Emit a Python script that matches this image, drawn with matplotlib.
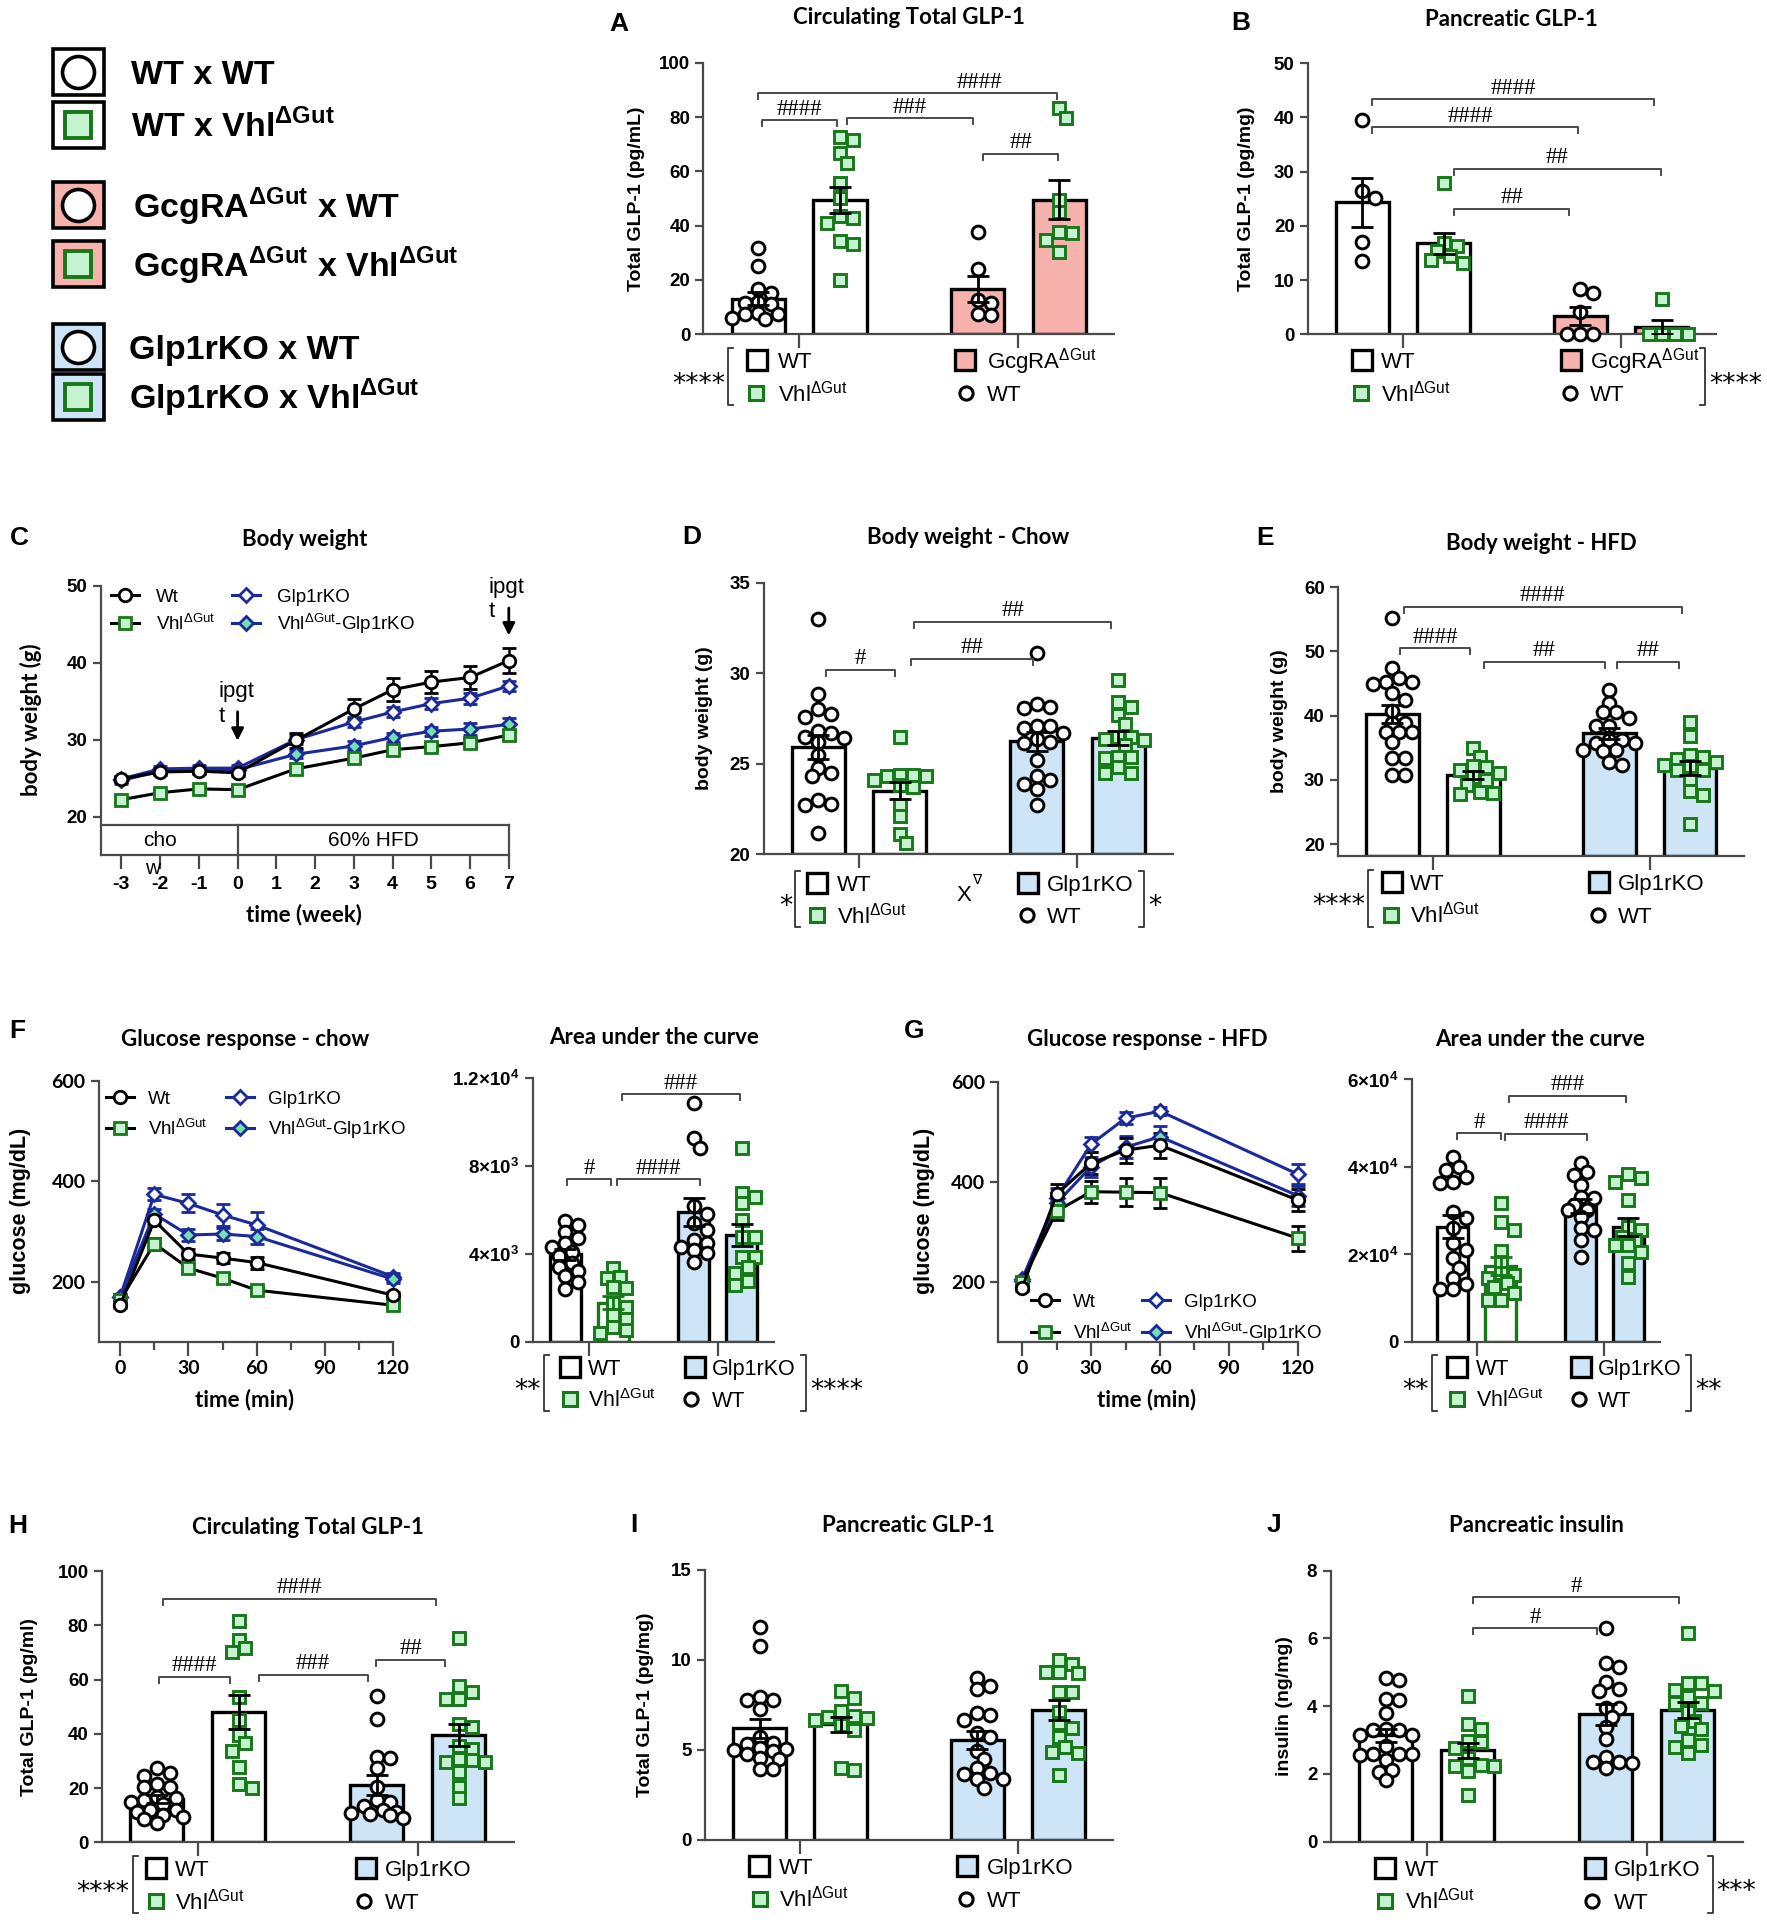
import matplotlib
matplotlib.use("Agg")
import matplotlib.pyplot as plt
from matplotlib.patches import Rectangle
from matplotlib.lines import Line2D
import numpy as np

plt.rcParams['font.family'] = ['Liberation Sans', 'DejaVu Sans']
plt.rcParams['mathtext.fontset'] = 'custom'
plt.rcParams['mathtext.rm'] = 'Liberation Sans'
plt.rcParams['mathtext.bf'] = 'Liberation Sans:bold'
plt.rcParams['axes.unicode_minus'] = False

### ---------------- data ----------------
# A - circulating total GLP-1 (pg/mL)
a_wt_wt = [31.9, 25.3, 16.8, 15.1, 12.0, 11.4, 11.2, 7.7, 7.5, 7.5, 5.9, 5.6]
a_wt_vhl = [72.8, 71.5, 66.6, 63.2, 55.6, 50.3, 43.6, 42.9, 41.1, 34.5, 33.1, 20.0]
a_gcg_wt = [37.5, 23.9, 12.6, 11.4, 7.5, 7.1]
a_gcg_vhl = [83.2, 79.5, 49.4, 44.9, 37.5, 37.2, 34.7, 30.4]

# B - pancreatic GLP-1 (pg/mg)
b_wt_wt = [39.5, 26.4, 25.2, 17.1, 13.6]
b_wt_vhl = [27.9, 16.8, 16.2, 15.3, 14.5, 13.8, 13.2]
b_gcg_wt = [8.4, 7.6, 4.1, 0, 0, 0]
b_gcg_vhl = [6.5, 0, 0, 0, 0]

# C - body weight time course (g)
c_week = [-3, -2, -1, 0, 1.5, 3, 4, 5, 6, 7]
c_wt = [24.9, 25.8, 25.9, 25.7, 29.9, 34.0, 36.5, 37.5, 38.1, 40.3]
c_wt_err = [0.4, 0.4, 0.4, 0.4, 1.0, 1.3, 1.5, 1.4, 1.5, 1.6]
c_vhl = [22.2, 23.1, 23.6, 23.5, 26.2, 27.6, 28.7, 29.1, 29.6, 30.6]
c_vhl_err = [0.3, 0.3, 0.3, 0.3, 0.5, 0.5, 0.5, 0.5, 0.6, 0.6]
c_ko = [24.9, 26.2, 26.3, 26.3, 30.0, 32.3, 33.6, 34.7, 35.4, 37.0]
c_ko_err = [0.4, 0.4, 0.4, 0.4, 0.6, 0.7, 0.7, 0.7, 0.7, 0.7]
c_vhlko = [24.7, 25.9, 26.1, 26.1, 28.1, 29.2, 30.3, 31.1, 31.4, 32.0]
c_vhlko_err = [0.4, 0.4, 0.4, 0.4, 0.5, 0.6, 0.6, 0.6, 0.8, 0.8]

# D - body weight chow (g)
d_wt_wt = [33.0, 28.85, 28.0, 27.75, 27.6, 26.8, 26.7, 26.5, 26.45, 26.2, 25.5,
           24.75, 24.5, 24.3, 23.0, 22.8, 22.7, 21.15]
d_wt_vhl = [26.5, 24.4, 24.4, 24.3, 24.3, 24.1, 23.8, 23.7, 22.7, 22.1, 21.1, 20.6]
d_ko_wt = [31.1, 28.3, 28.15, 28.1, 27.1, 27.1, 26.95, 26.7, 26.35, 26.2, 26.15,
           25.2, 24.3, 24.1, 23.9, 23.6, 22.7]
d_ko_vhl = [29.6, 28.4, 28.15, 27.7, 27.2, 26.5, 26.5, 26.35, 26.3, 26.05, 25.4,
            25.4, 25.3, 24.8, 24.5, 24.5]

# E - body weight HFD (g)
e_wt_wt = [55.2, 47.4, 45.8, 45.3, 45.3, 45.0, 43.6, 42.5, 40.7, 38.9, 38.9,
           37.5, 37.5, 37.5, 35.9, 33.4, 33.4, 30.75, 30.75]
e_wt_vhl = [34.9, 33.6, 32.2, 32.0, 31.6, 31.0, 30.5, 29.9, 29.2, 28.1, 28.0, 27.8]
e_ko_wt = [44.0, 41.9, 40.6, 40.6, 39.6, 38.4, 38.4, 36.2, 36.2, 35.7, 35.7,
           34.6, 34.6, 34.5, 32.8, 32.3]
e_ko_vhl = [39.0, 36.8, 33.9, 33.5, 33.2, 32.8, 32.3, 32.2, 31.6, 31.5, 30.2,
            28.2, 27.6, 23.1]

# F - glucose response chow (mg/dL) and AUC
f_time = [0, 15, 30, 45, 60, 120]
f_wt = [153, 322, 255, 247, 238, 173]
f_wt_err = [5, 10, 10, 10, 12, 6]
f_vhl = [163, 276, 227, 207, 183, 153]
f_vhl_err = [5, 12, 10, 8, 6, 5]
f_ko = [170, 374, 356, 333, 313, 210]
f_ko_err = [6, 12, 18, 22, 25, 8]
f_vhlko = [169, 335, 293, 295, 290, 205]
f_vhlko_err = [5, 10, 12, 12, 15, 8]
f_auc_wt_wt = [5500, 5300, 5000, 4700, 4500, 4300, 4100, 3900, 3600, 3400, 3200, 3000, 2700, 2400]
f_auc_wt_vhl = [3333, 2955, 2879, 2500, 2424, 1742, 1590, 1212, 1015, 680, 530, 380]
f_auc_ko_wt = [10833, 9242, 8788, 6167, 5803, 5379, 5076, 4621, 4470, 4318, 4167, 4015, 3636]
f_auc_ko_vhl = [8788, 6773, 6561, 6288, 5530, 4773, 4773, 3864, 3864, 3409, 3106, 2773, 2576]

# G - glucose response HFD (mg/dL) and AUC
g_time = [0, 15, 30, 45, 60, 120]
g_wt = [187, 375, 437, 463, 473, 363]
g_wt_err = [5, 20, 22, 25, 25, 22]
g_vhl = [200, 341, 380, 379, 378, 287]
g_vhl_err = [5, 18, 22, 28, 30, 25]
g_ko = [205, 367, 475, 527, 541, 415]
g_ko_err = [5, 20, 15, 12, 8, 20]
g_vhlko = [202, 357, 430, 469, 490, 372]
g_vhlko_err = [5, 15, 20, 22, 22, 20]
g_auc_wt_wt = [42300, 40000, 39260, 37740, 36600, 36200, 29700, 28200, 25900, 22500,
               21000, 19100, 16800, 14500, 13300, 12000, 12000]
g_auc_wt_vhl = [31640, 27300, 25540, 20800, 18300, 15600, 15250, 14500, 13340, 12430,
                11050, 9530, 9530]
g_auc_ko_wt = [40800, 38880, 38120, 35830, 33160, 32780, 31260, 30100, 30100, 28600,
               25920, 25540, 23250, 19290]
g_auc_ko_vhl = [38350, 37360, 36600, 32400, 26300, 25540, 24000, 23250, 22100, 22100,
                20580, 17920, 14870]

# H - circulating total GLP-1 (pg/ml)
h_wt_wt = [27.3, 25.7, 24.4, 21.5, 20.3, 20.3, 16.8, 16.5, 15.6, 14.7, 14.0, 11.9,
           11.9, 11.1, 10.1, 9.2, 8.6, 7.0]
h_wt_vhl = [81.7, 74.6, 71.5, 70.3, 53.7, 45.1, 39.6, 36.5, 33.8, 27.9, 21.5, 19.9]
h_ko_wt = [53.9, 45.3, 31.3, 31.0, 27.3, 20.5, 15.6, 15.0, 13.5, 11.9, 11.3, 10.7,
           10.4, 10.1, 8.8]
h_ko_vhl = [75.2, 57.6, 55.5, 52.7, 52.7, 43.6, 42.4, 35.5, 34.3, 30.6, 30.3, 29.7,
            29.7, 26.0, 20.5, 16.2]

# I - pancreatic GLP-1 (pg/mg)
i_wt_wt = [11.85, 10.8, 7.96, 7.8, 7.78, 7.26, 5.7, 5.4, 5.33, 5.1, 5.04, 5.0,
           4.96, 4.8, 4.54, 4.48, 3.93, 3.93]
i_wt_vhl = [8.3, 7.87, 7.18, 6.89, 6.81, 6.76, 6.67, 6.39, 6.11, 3.98, 3.89]
i_ko_wt = [9.0, 8.56, 8.37, 7.07, 6.94, 6.67, 5.93, 5.7, 4.96, 4.48, 3.98, 3.74,
           3.67, 3.37, 3.37, 2.87]
i_ko_vhl = [10.0, 9.8, 9.35, 9.35, 9.26, 8.24, 8.24, 7.13, 6.52, 6.2, 5.7, 5.19,
            4.9, 4.81, 3.61]

# J - pancreatic insulin (ng/mg)
j_wt_wt = [4.82, 4.77, 4.2, 4.18, 3.81, 3.32, 3.3, 3.3, 3.15, 3.15, 2.82, 2.59,
           2.59, 2.59, 2.56, 2.41, 2.12, 2.07, 1.82]
j_wt_vhl = [4.3, 3.47, 3.33, 2.98, 2.95, 2.76, 2.46, 2.26, 2.24, 2.24, 2.1, 1.38]
j_ko_wt = [6.32, 5.27, 5.17, 4.72, 4.5, 4.46, 3.94, 3.94, 3.69, 3.4, 3.02, 2.51,
           2.36, 2.36, 2.31, 2.17]
j_ko_vhl = [6.17, 4.68, 4.68, 4.48, 4.46, 4.26, 4.1, 4.08, 3.84, 3.57, 3.42, 3.32,
            3.0, 2.85, 2.8, 2.61]

### ---------------- style ----------------
W, H = 1767, 1920
fig = plt.figure(figsize=(W / 100, H / 100), dpi=100)

SPINE = '#4a4a4a'
PINK = '#f8b2ad'
LBLUE = '#cde5f7'
SQ_FILL = '#c5f3cf'
SQ_EDGE = '#17781a'
NAVY = '#1b2a9a'
MINT = '#74e0b0'
VHL = r'Vhl$^{\mathregular{ΔGut}}$'
GCG = r'GcgRA$^{\mathregular{ΔGut}}$'
TITLE_FONT = ['Lato', 'DejaVu Sans']
HASH_FONT = ['Liberation Serif', 'DejaVu Serif']
STAR_FONT = ['DejaVu Sans']
TICK_FS = 13.5

POS = [0, 1, 2.68, 3.68]
BAR_W = 0.65


def ftext(x, y, s, **kw):
    return fig.text(x / W, 1 - y / H, s, **kw)


def px_ax(l, t, r, b):
    ax = fig.add_axes([l / W, 1 - b / H, (r - l) / W, (b - t) / H])
    ax.patch.set_alpha(0)
    for s in ('top', 'right'):
        ax.spines[s].set_visible(False)
    for s in ('left', 'bottom'):
        ax.spines[s].set_color(SPINE)
        ax.spines[s].set_linewidth(1.6)
    ax.tick_params(colors=SPINE, width=1.6, length=6, labelcolor='black', labelsize=TICK_FS)
    return ax


def swarm(vals, sy, d, lim):
    ### simple beeswarm: offsets in pixels, points may overlap a little
    order = np.argsort(-vals, kind='stable')
    placed = []
    offs = np.zeros(len(vals))
    for k in order:
        y = vals[k] * sy
        best, best_gap = 0.0, -1e9
        for step in range(40):
            cand = 0.0 if step == 0 else ((step + 1) // 2) * d * 0.5 * (1 if step % 2 else -1)
            if abs(cand) > lim:
                continue
            gap = min([np.hypot(cand - px, y - py) for px, py in placed] + [1e9])
            if gap >= d * 0.8:
                best = cand
                break
            if gap > best_gap:
                best, best_gap = cand, gap
        offs[k] = best
        placed.append((best, y))
    return offs


def title(cx, y, s, letter=None, lx=None, ly=None):
    ftext(cx, y, s, ha='center', va='center', fontsize=16, fontweight='bold', family=TITLE_FONT)
    if letter:
        ftext(lx, ly, letter, ha='center', va='center', fontsize=19, fontweight='bold')


def bar_panel(box, ylim, yticks, groups, fills, edges, brackets, ylabel=None, ylab_x=None,
              xlim=(-0.67, 4.35), yticklabels=None):
    l, t, r, b = box
    ax = px_ax(l, t, r, b)
    ax.set_xlim(xlim)
    ax.set_ylim(ylim)
    sx = (r - l) / (xlim[1] - xlim[0])
    sy = (b - t) / (ylim[1] - ylim[0])
    for i, vals in enumerate(groups):
        vals = np.asarray(vals, float)
        m = vals.mean()
        sem = vals.std(ddof=1) / np.sqrt(len(vals))
        ax.bar(POS[i], m - ylim[0], bottom=ylim[0], width=BAR_W, color=fills[i],
               edgecolor=edges[i], linewidth=2.4, zorder=2)
        offs = swarm(vals, sy, 13.0, BAR_W * sx * 0.55) / sx
        if i % 2 == 0:
            ax.plot(POS[i] + offs, vals, 'o', ms=9.2, mfc='white', mec='black', mew=2.1,
                    zorder=3, clip_on=False)
        else:
            ax.plot(POS[i] + offs, vals, 's', ms=8.6, mfc=SQ_FILL, mec=SQ_EDGE, mew=2.1,
                    zorder=3, clip_on=False)
        ax.errorbar(POS[i], m, yerr=sem, color=edges[i], capsize=8, elinewidth=2,
                    capthick=2, zorder=4)
    drop = 6 / sy
    for br in brackets:
        i, j, y, lab, dl, dr = br[:6]
        tt = br[6] if len(br) > 6 else 0.5
        x1, x2 = POS[i] + dl, POS[j] + dr
        ax.plot([x1, x1, x2, x2], [y - drop, y, y, y - drop], color=SPINE, lw=1.4,
                clip_on=False, zorder=5)
        ax.text(x1 + tt * (x2 - x1), y + 11 / sy, lab, ha='center', va='center',
                fontsize=16.5, family=HASH_FONT)
    ax.set_yticks(yticks)
    ax.set_yticklabels(yticklabels if yticklabels else [str(v) for v in yticks],
                       fontweight='bold', fontsize=TICK_FS)
    ax.set_xticks([(POS[0] + POS[1]) / 2, (POS[2] + POS[3]) / 2])
    ax.set_xticklabels([])
    ax.tick_params(axis='x', length=10)
    if ylabel:
        ftext(ylab_x, (t + b) / 2, ylabel, rotation=90, ha='center', va='center',
              fontsize=14, fontweight='bold')
    return ax


def add_box(cx, cy, fill, size=20, lw=2.4):
    fig.add_artist(Rectangle(((cx - size / 2) / W, 1 - (cy + size / 2) / H), size / W, size / H,
                             transform=fig.transFigure, facecolor=fill, edgecolor='black', lw=lw))


def add_mark(cx, cy, kind, ms=9, mew=2.2):
    if kind == 'o':
        kw = dict(marker='o', mfc='white', mec='black')
    else:
        kw = dict(marker='s', mfc=SQ_FILL, mec=SQ_EDGE)
    fig.add_artist(Line2D([cx / W], [1 - cy / H], transform=fig.transFigure, ls='none',
                          ms=ms, mew=mew, **kw))


def sig_bracket(x, r1, r2, text, side):
    y1, y2 = r1 - 12, r2 + 12
    d = 5 if side == 'left' else -5
    fig.add_artist(Line2D([(x + d) / W, x / W, x / W, (x + d) / W],
                          [1 - y1 / H, 1 - y1 / H, 1 - y2 / H, 1 - y2 / H],
                          transform=fig.transFigure, color='#333333', lw=1.3))
    if side == 'left':
        ftext(x - 3, (r1 + r2) / 2 + 8, text, ha='right', va='center', fontsize=19,
              family=STAR_FONT)
    else:
        ftext(x + 4, (r1 + r2) / 2 + 8, text, ha='left', va='center', fontsize=19,
              family=STAR_FONT)


def group_legend(bottom, lbox, ltext, lmark, rbox, rtext, rmark, rfill, rlabel,
                 sig_left=None, sig_right=None, rows=(26, 59), fs=16):
    r1, r2 = bottom + rows[0], bottom + rows[1]
    add_box(lbox, r1, 'white')
    ftext(ltext, r1 + 8, 'WT', fontsize=fs, va='baseline')
    add_mark(lmark, r2, 's', ms=9.5)
    ftext(ltext, r2 + 8, VHL, fontsize=fs, va='baseline')
    add_box(rbox, r1, rfill)
    ftext(rtext, r1 + 8, rlabel, fontsize=fs, va='baseline')
    add_mark(rmark, r2, 'o', ms=9.5)
    ftext(rtext, r2 + 8, 'WT', fontsize=fs, va='baseline')
    if sig_left:
        sig_bracket(sig_left[0], r1, r2, sig_left[1], 'left')
    if sig_right:
        sig_bracket(sig_right[0], r1, r2, sig_right[1], 'right')


STY = {
    'wt': dict(color='black', marker='o', mfc='white', mec='black', ms=9, mew=2),
    'vhl': dict(color='black', marker='s', mfc=SQ_FILL, mec=SQ_EDGE, ms=8.5, mew=2),
    'ko': dict(color=NAVY, marker='D', mfc='white', mec=NAVY, ms=7.5, mew=2),
    'vhlko': dict(color=NAVY, marker='D', mfc=MINT, mec=NAVY, ms=7.5, mew=2),
}


def draw_series(ax, x, y, e, key):
    s = STY[key]
    ax.errorbar(x, y, yerr=e, color=s['color'], lw=2.2, elinewidth=1.8, capsize=5, capthick=1.8,
                marker=s['marker'], mfc=s['mfc'], mec=s['mec'], ms=s['ms'], mew=s['mew'],
                clip_on=False, zorder=3)


def line_legend(entries, fs=13.5):
    for key, label, mx, y, tx in entries:
        s = STY[key]
        fig.add_artist(Line2D([(mx - 14) / W, (mx + 14) / W], [1 - y / H] * 2,
                              transform=fig.transFigure, color=s['color'], lw=2.2))
        fig.add_artist(Line2D([mx / W], [1 - y / H], transform=fig.transFigure, ls='none',
                              marker=s['marker'], mfc=s['mfc'], mec=s['mec'], ms=s['ms'],
                              mew=s['mew']))
        ftext(tx, y + 7, label, fontsize=fs, va='baseline')


### ---------------- top-left legend ----------------
leg_rows = [71.5, 124.5, 205, 264, 346.5, 396.5]
leg_fill = ['white', 'white', PINK, PINK, LBLUE, LBLUE]
leg_kind = ['o', 's', 'o', 's', 'o', 's']
leg_x = [131, 131, 133, 133, 129, 129]
leg_text = ['WT x WT', 'WT x ' + VHL, GCG + ' x WT', GCG + ' x ' + VHL,
            'Glp1rKO x WT', 'Glp1rKO x ' + VHL]
for y, fill, kind, tx, txt in zip(leg_rows, leg_fill, leg_kind, leg_x, leg_text):
    fig.add_artist(Rectangle((52.7 / W, 1 - (y + 23) / H), 51 / W, 46 / H,
                             transform=fig.transFigure, facecolor=fill, edgecolor='black', lw=2.6))
    if kind == 'o':
        fig.add_artist(Line2D([78 / W], [1 - y / H], transform=fig.transFigure, ls='none',
                              marker='o', ms=23, mfc='white', mec='black', mew=2.6))
    else:
        fig.add_artist(Line2D([78 / W], [1 - y / H], transform=fig.transFigure, ls='none',
                              marker='s', ms=19, mfc=SQ_FILL, mec=SQ_EDGE, mew=2.8))
    ftext(tx, y + 13, txt, fontsize=24.5, fontweight='bold', va='baseline')

### ---------------- A ----------------
title(908.6, 18, 'Circulating Total GLP-1', 'A', 619, 24)
bar_panel((703.4, 62.7, 1114.2, 334.3), (0, 100), [0, 20, 40, 60, 80, 100],
          [a_wt_wt, a_wt_vhl, a_gcg_wt, a_gcg_vhl], ['white', 'white', PINK, PINK], ['black'] * 4,
          [(0, 1, 78.9, '####', 0.05, -0.04), (1, 2, 79.5, '###', 0.09, -0.06),
           (0, 3, 88.7, '####', 0.0, -0.03, 0.74), (2, 3, 66.4, '##', 0.07, -0.02)],
          'Total GLP-1 (pg/mL)', 636)
group_legend(334.3, 757, 778, 756, 965, 987, 966, PINK, GCG, sig_left=(728, '****'))

### ---------------- B ----------------
title(1511, 20, 'Pancreatic GLP-1', 'B', 1241, 23)
bar_panel((1307.9, 63.3, 1716, 334.3), (0, 50), [0, 10, 20, 30, 40, 50],
          [b_wt_wt, b_wt_vhl, b_gcg_wt, b_gcg_vhl], ['white', 'white', PINK, PINK], ['black'] * 4,
          [(0, 3, 43.4, '####', 0.12, -0.09), (0, 2, 38.2, '####', 0.12, -0.03, 0.48),
           (1, 3, 30.5, '##', 0.13, -0.01), (1, 2, 23.2, '##', 0.13, -0.14)],
          'Total GLP-1 (pg/mg)', 1246.6)
group_legend(334.3, 1361.5, 1381, 1360.6, 1570.5, 1590, 1569.5, PINK, GCG,
             sig_right=(1705, '****'))

### ---------------- C ----------------
title(304.8, 540, 'Body weight', 'C', 19, 538)
axc = px_ax(100.8, 586, 508.8, 855)
axc.set_xlim(-3.53, 7)
axc.set_ylim(15, 50)
for x, y, e, key in [(c_week, c_ko, c_ko_err, 'ko'), (c_week, c_vhlko, c_vhlko_err, 'vhlko'),
                     (c_week, c_vhl, c_vhl_err, 'vhl'), (c_week, c_wt, c_wt_err, 'wt')]:
    draw_series(axc, x, y, e, key)
axc.set_yticks([20, 30, 40, 50])
axc.set_yticklabels(['20', '30', '40', '50'], fontweight='bold')
axc.set_xticks(range(-3, 8))
axc.set_xticklabels([str(v) for v in range(-3, 8)], fontweight='bold', fontsize=14)
axc.tick_params(axis='x', length=10, pad=5)
for xs, ys in [([-3.53, 7], [18.9, 18.9]), ([0, 0], [15, 18.9]), ([7, 7], [15, 18.9])]:
    axc.plot(xs, ys, color=SPINE, lw=1.6, clip_on=False)
axc.text(-2.0, 16.95, 'cho', ha='center', va='center', fontsize=15)
axc.text(-2.2, 13.3, 'w', ha='center', va='center', fontsize=15)
axc.text(3.5, 16.95, '60% HFD', ha='center', va='center', fontsize=15)
for ax_x, tx, ty, t2x, t2y, a0, a1 in [(0, -0.02, 36.3, -0.42, 33.0, 34.0, 29.5),
                                       (7, 6.93, 49.8, 6.55, 46.7, 47.5, 43.2)]:
    axc.annotate('', xy=(ax_x, a1), xytext=(ax_x, a0),
                 arrowprops=dict(arrowstyle='-|>', color='black', lw=2, mutation_scale=18))
    axc.text(tx, ty, 'ipgt', ha='center', va='center', fontsize=16)
    axc.text(t2x, t2y, 't', ha='center', va='center', fontsize=16)
ftext(31, 720, 'body weight (g)', rotation=90, ha='center', va='center', fontsize=16,
      fontweight='bold', family=TITLE_FONT)
ftext(304, 915, 'time (week)', ha='center', va='center', fontsize=16, fontweight='bold',
      family=TITLE_FONT)
line_legend([('wt', 'Wt', 125, 595, 156), ('vhl', VHL, 125, 623.3, 156),
             ('ko', 'Glp1rKO', 246, 595, 277), ('vhlko', VHL + '-Glp1rKO', 246, 623.3, 277)])

### ---------------- D ----------------
title(968, 538, 'Body weight - Chow', 'D', 692, 537)
bar_panel((763.6, 582.7, 1172.8, 854.3), (20, 35), [20, 25, 30, 35],
          [d_wt_wt, d_wt_vhl, d_ko_wt, d_ko_vhl], ['white', 'white', LBLUE, LBLUE], ['black'] * 4,
          [(0, 1, 30.2, '#', 0.1, -0.055), (1, 2, 30.8, '##', 0.135, -0.04),
           (1, 3, 32.85, '##', 0.18, -0.09)],
          'body weight (g)', 704.4)
group_legend(854.3, 817, 837, 817, 1028, 1047, 1027, LBLUE, 'Glp1rKO',
             sig_left=(795, '*'), sig_right=(1144, '*'), rows=(29, 61))
ftext(964, 893 + 8, 'X', fontsize=16, va='baseline', ha='center')
ftext(977, 880, '∇', fontsize=10, va='center', ha='center', family=['DejaVu Sans'])

### ---------------- E ----------------
title(1541, 543, 'Body weight - HFD', 'E', 1265, 538)
bar_panel((1338, 587.3, 1744.4, 855.7), (18.18, 60), [20, 30, 40, 50, 60],
          [e_wt_wt, e_wt_vhl, e_ko_wt, e_ko_vhl], ['white', 'white', LBLUE, LBLUE], ['black'] * 4,
          [(0, 3, 57.0, '####', 0.14, -0.1), (0, 1, 50.5, '####', 0.1, -0.04),
           (1, 2, 48.4, '##', 0.13, -0.05), (2, 3, 48.4, '##', 0.1, -0.14)],
          'body weight (g)', 1279.7)
group_legend(855.7, 1392, 1410, 1391, 1599, 1618, 1598, LBLUE, 'Glp1rKO',
             sig_left=(1368, '****'))

### ---------------- F ----------------
title(245, 1039, 'Glucose response - chow', 'F', 17, 1031)
axf = px_ax(98.7, 1081, 393.1, 1341.7)
axf.set_xlim(-9.45, 120)
axf.set_ylim(80.3, 600)
for y, e, key in [(f_ko, f_ko_err, 'ko'), (f_vhlko, f_vhlko_err, 'vhlko'),
                  (f_vhl, f_vhl_err, 'vhl'), (f_wt, f_wt_err, 'wt')]:
    draw_series(axf, f_time, y, e, key)
axf.set_yticks([200, 400, 600])
axf.set_yticklabels(['200', '400', '600'], fontweight='bold', family=TITLE_FONT, fontsize=14)
axf.set_xticks([0, 30, 60, 90, 120])
axf.set_xticklabels(['0', '30', '60', '90', '120'], fontweight='bold', family=TITLE_FONT, fontsize=14)
axf.set_xticks([15, 45, 75, 105], minor=True)
axf.tick_params(axis='x', which='major', length=10)
axf.tick_params(axis='x', which='minor', length=6, width=1.6, colors=SPINE)
ftext(21, 1211, 'glucose (mg/dL)', rotation=90, ha='center', va='center', fontsize=15.5,
      fontweight='bold')
ftext(245, 1400, 'time (min)', ha='center', va='center', fontsize=16, fontweight='bold',
      family=TITLE_FONT)
line_legend([('wt', 'Wt', 119.6, 1096.7, 147.8), ('vhl', VHL, 119.6, 1128.3, 147.8),
             ('ko', 'Glp1rKO', 239.7, 1096.7, 268), ('vhlko', VHL + '-Glp1rKO', 239.7, 1128.3, 268)])

title(654, 1037, 'Area under the curve')
bar_panel((533, 1077.7, 774.4, 1341.7), (0, 12000), [0, 4000, 8000, 12000],
          [f_auc_wt_wt, f_auc_wt_vhl, f_auc_ko_wt, f_auc_ko_vhl],
          ['white', 'white', LBLUE, LBLUE], ['black', SQ_EDGE, 'black', 'black'],
          [(0, 1, 7379, '#', 0.03, -0.05), (1, 2, 7379, '####', 0.07, 0.13),
           (1, 3, 11258, '###', 0.18, -0.03)],
          xlim=(-0.676, 4.363),
          yticklabels=['0', r'4×10$^{\mathregular{3}}$', r'8×10$^{\mathregular{3}}$',
                       r'1.2×10$^{\mathregular{4}}$'])
group_legend(1341.7, 569.5, 588, 570, 694.5, 712, 691, LBLUE, 'Glp1rKO',
             sig_left=(544, '**'), sig_right=(806, '****'), rows=(25, 57), fs=15.5)

### ---------------- G ----------------
title(1147, 1040, 'Glucose response - HFD', 'G', 914, 1031)
axg = px_ax(998.3, 1081.7, 1297.9, 1341.7)
axg.set_xlim(-10.36, 120)
axg.set_ylim(80, 600)
for y, e, key in [(g_ko, g_ko_err, 'ko'), (g_vhlko, g_vhlko_err, 'vhlko'),
                  (g_vhl, g_vhl_err, 'vhl'), (g_wt, g_wt_err, 'wt')]:
    draw_series(axg, g_time, y, e, key)
axg.set_yticks([200, 400, 600])
axg.set_yticklabels(['200', '400', '600'], fontweight='bold', family=TITLE_FONT, fontsize=14)
axg.set_xticks([0, 30, 60, 90, 120])
axg.set_xticklabels(['0', '30', '60', '90', '120'], fontweight='bold', family=TITLE_FONT, fontsize=14)
axg.set_xticks([15, 45, 75, 105], minor=True)
axg.tick_params(axis='x', which='major', length=10)
axg.tick_params(axis='x', which='minor', length=6, width=1.6, colors=SPINE)
ftext(924, 1211, 'glucose (mg/dL)', rotation=90, ha='center', va='center', fontsize=15.5,
      fontweight='bold')
ftext(1147, 1400, 'time (min)', ha='center', va='center', fontsize=16, fontweight='bold',
      family=TITLE_FONT)
line_legend([('wt', 'Wt', 1044.9, 1300, 1073.3), ('vhl', VHL, 1044.9, 1331.7, 1073.3),
             ('ko', 'Glp1rKO', 1155.8, 1300, 1184.2),
             ('vhlko', VHL + '-Glp1rKO', 1155.8, 1331.7, 1184.2)])

title(1540, 1040, 'Area under the curve')
bar_panel((1411.6, 1079.3, 1660, 1341.7), (0, 60000), [0, 20000, 40000, 60000],
          [g_auc_wt_wt, g_auc_wt_vhl, g_auc_ko_wt, g_auc_ko_vhl],
          ['white', 'white', LBLUE, LBLUE], ['black', SQ_EDGE, 'black', 'black'],
          [(0, 1, 47650, '#', 0.09, 0.0), (1, 2, 47500, '####', 0.1, 0.14),
           (1, 3, 56190, '###', 0.18, -0.04)],
          xlim=(-0.867, 4.345),
          yticklabels=['0', r'2×10$^{\mathregular{4}}$', r'4×10$^{\mathregular{4}}$',
                       r'6×10$^{\mathregular{4}}$'])
group_legend(1341.7, 1456.5, 1476, 1457, 1580.5, 1597.6, 1579.4, LBLUE, 'Glp1rKO',
             sig_left=(1431.5, '**'), sig_right=(1691, '**'), rows=(25, 57), fs=15.5)

### ---------------- H ----------------
title(307.7, 1527, 'Circulating Total GLP-1', 'H', 18, 1526)
bar_panel((101.9, 1571, 513.5, 1842.3), (0, 100), [0, 20, 40, 60, 80, 100],
          [h_wt_wt, h_wt_vhl, h_ko_wt, h_ko_vhl], ['white', 'white', LBLUE, LBLUE], ['black'] * 4,
          [(0, 3, 89.7, '####', 0.07, -0.27), (0, 1, 61, '####', 0.03, -0.11),
           (1, 2, 61.7, '###', 0.24, -0.11), (2, 3, 67.2, '##', -0.01, -0.16)],
          'Total GLP-1 (pg/ml)', 29.6)
group_legend(1842.3, 155.5, 175, 156, 366, 385, 363.5, LBLUE, 'Glp1rKO',
             sig_left=(132.7, '****'))

### ---------------- I ----------------
title(908.6, 1526, 'Pancreatic GLP-1', 'I', 634, 1525)
bar_panel((705.2, 1570, 1113, 1840), (0, 15), [0, 5, 10, 15],
          [i_wt_wt, i_wt_vhl, i_ko_wt, i_ko_vhl], ['white', 'white', LBLUE, LBLUE], ['black'] * 4,
          [], 'Total GLP-1 (pg/mg)', 645.4)
group_legend(1840, 759, 778.5, 760, 967, 986.7, 966, LBLUE, 'Glp1rKO')

### ---------------- J ----------------
title(1536, 1526, 'Pancreatic insulin', 'J', 1274, 1525)
bar_panel((1330.5, 1570.7, 1742.6, 1841.7), (0, 8), [0, 2, 4, 6, 8],
          [j_wt_wt, j_wt_vhl, j_ko_wt, j_ko_vhl], ['white', 'white', LBLUE, LBLUE], ['black'] * 4,
          [(1, 3, 7.21, '#', 0.07, -0.1), (1, 2, 6.3, '#', 0.07, -0.1)],
          'insulin (ng/mg)', 1284)
group_legend(1841.7, 1385, 1405, 1385, 1595, 1613.5, 1592, LBLUE, 'Glp1rKO',
             sig_right=(1712.5, '***'))

fig.savefig('out.png', dpi=100, facecolor='white')
